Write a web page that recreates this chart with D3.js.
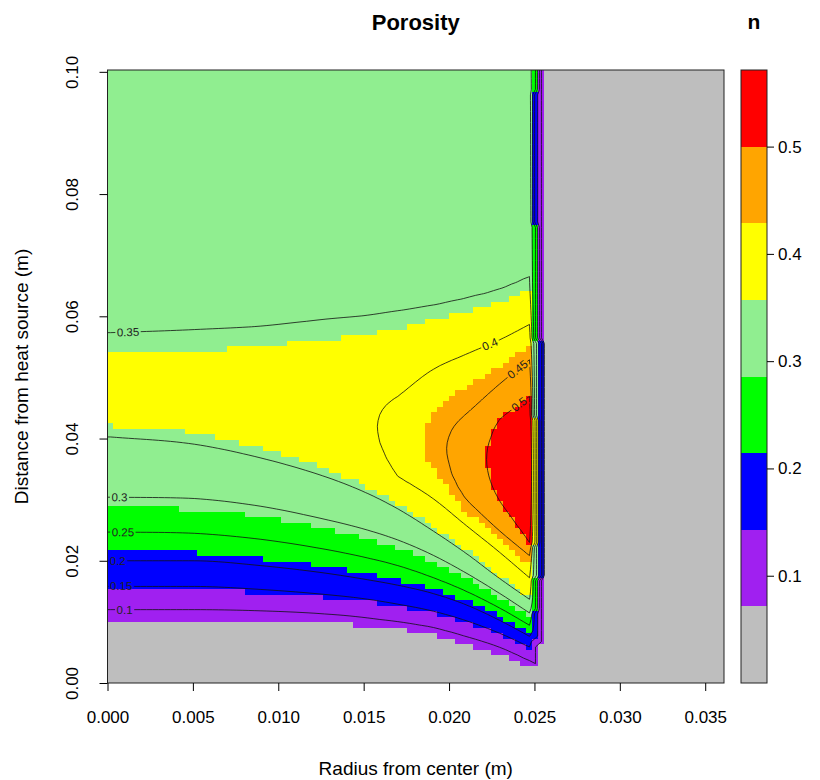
<!DOCTYPE html>
<html>
<head>
<meta charset="utf-8">
<script src="https://cdn.jsdelivr.net/npm/d3@7"></script>
<style>
  body { margin: 0; background: #ffffff; }
  svg { display: block; }
</style>
</head>
<body>
<svg id="chart" width="820" height="780"></svg>
<script>
// ---------------- DATA ----------------
// Colour classes of the image (R filled levels) and their colours
const fillLevels = [0, 0.0714, 0.1429, 0.2143, 0.2857, 0.3571, 0.4286, 0.5, 0.5714];
const fillColors = ["#BEBEBE", "#A020F0", "#0000FF", "#00FF00", "#90EE90", "#FFFF00", "#FFA500", "#FF0000"];
// Contour line levels
const contourLevels = [0.1, 0.15, 0.2, 0.25, 0.3, 0.35, 0.4, 0.45, 0.5];
// x (m) where each contour gets its label (label sits on the upper-most crossing)
const labelX = [0.0010, 0.0008, 0.0006, 0.0009, 0.0007, 0.0012, 0.0224, 0.0240, 0.0241];

// Axis ticks
const xTicks = [0, 0.005, 0.010, 0.015, 0.020, 0.025, 0.030, 0.035];
const yTicks = [0, 0.02, 0.04, 0.06, 0.08, 0.10];
const legendTicks = [0.1, 0.2, 0.3, 0.4, 0.5];

// Porosity field: vertical profiles at these radii (m)
const colX = [0, 0.005, 0.009, 0.0127, 0.015, 0.017, 0.019, 0.021, 0.023, 0.0248];
// heights (m) where the rising part of each profile crosses these values
const lowLevels = [0.0714, 0.1, 0.15, 0.2, 0.25, 0.3, 0.35, 0.4, 0.45, 0.5];
const lowY = [
  [0.0099, 0.0099, 0.0099, 0.0099, 0.0093, 0.0088, 0.0079, 0.0063, 0.0045, 0.0027],
  [0.0120, 0.0120, 0.0118, 0.0113, 0.0107, 0.0100, 0.0091, 0.0076, 0.0058, 0.0035],
  [0.0158, 0.0158, 0.0153, 0.0145, 0.0138, 0.0129, 0.0118, 0.0102, 0.0081, 0.0058],
  [0.0200, 0.0200, 0.0192, 0.0180, 0.0170, 0.0160, 0.0147, 0.0128, 0.0102, 0.0075],
  [0.0247, 0.0245, 0.0235, 0.0219, 0.0206, 0.0192, 0.0173, 0.0150, 0.0122, 0.0093],
  [0.0304, 0.0302, 0.0289, 0.0268, 0.0252, 0.0234, 0.0210, 0.0180, 0.0146, 0.0113],
  [0.0403, 0.0391, 0.0368, 0.0338, 0.0313, 0.0285, 0.0250, 0.0212, 0.0170, 0.0135],
  [null,   null,   null,   null,   null,   0.0338, 0.0303, 0.0258, 0.0213, 0.0170],
  [null,   null,   null,   null,   null,   null,   null,   0.0300, 0.0248, 0.0207],
  [null,   null,   null,   null,   null,   null,   null,   null,   0.0296, 0.0226]
];
// maximum of each profile and its height
const peakV = [0.370, 0.370, 0.375, 0.384, 0.392, 0.412, 0.435, 0.470, 0.520, 0.560];
const peakY = [0.0470, 0.0468, 0.0460, 0.0445, 0.0428, 0.0405, 0.0390, 0.0372, 0.0362, 0.0350];
// heights where the falling (upper) part of each profile crosses these values
const upLevels = [0.5, 0.45, 0.4, 0.35];
const upY = [
  [null,   null,   null,   null,   null,   null,   null,   null,   0.0433, 0.0471],
  [null,   null,   null,   null,   null,   null,   null,   0.0440, 0.0490, 0.0531],
  [null,   null,   null,   null,   null,   0.0469, 0.0512, 0.0538, 0.0562, 0.0588],
  [0.0573, 0.0578, 0.0584, 0.0595, 0.0601, 0.0609, 0.0618, 0.0630, 0.0645, 0.0666]
];
const bottomValue = 0.0;
const topValue = 0.32;

// the thin wall strip: start of 1st cell, 2nd cell, and of the solid (gray) part
const edgeStarts = [0.02489, 0.02524, 0.02559];
const edge1Top = [0.0026, 0.0075, 0.0119, 0.0169, 0.0229, 0.0435, 0.0561, 0.0750, 0.0967, 0.1003];
const edge1Val = [0.03,   0.10,   0.18,   0.25,   0.32,   0.39,   0.32,   0.25,   0.18,   0.25];
const edge2Top = [0.0065, 0.0169, 0.0561, 0.1003];
const edge2Val = [0.03,   0.10,   0.20,   0.10];
const solidValue = 0.0;

// ---------------- LAYOUT ----------------
const FONT = "'Liberation Sans', Arial, Helvetica, sans-serif";
const plot = { left: 107.5, right: 724, top: 70, bottom: 683 };
const xDomain = [0, 0.0361], yDomain = [0, 0.1003];
const nx = 103, ny = 111;
const dx = xDomain[1] / nx, dy = yDomain[1] / ny;

const svg = d3.select("#chart");
svg.append("rect").attr("width", 820).attr("height", 780).attr("fill", "#ffffff");

const x = d3.scaleLinear().domain(xDomain).range([plot.left, plot.right]);
const y = d3.scaleLinear().domain(yDomain).range([plot.bottom, plot.top]);
const color = d3.scaleThreshold().domain(fillLevels.slice(1, -1)).range(fillColors);

// ---------------- FIELD ----------------
// smooth (monotone-ish cubic Hermite) interpolation of a row of read heights between columns
function herm(arr, k, t) {
  const x0 = colX[k], x1 = colX[k + 1], h = x1 - x0, y0 = arr[k], y1 = arr[k + 1];
  const s = (y1 - y0) / h;
  let m0 = s, m1 = s;
  if (k > 0 && arr[k - 1] != null) {
    const sp = (y0 - arr[k - 1]) / (x0 - colX[k - 1]);
    m0 = sp * s <= 0 ? 0 : (sp + s) / 2;
  }
  if (k + 2 < arr.length && arr[k + 2] != null) {
    const sn = (arr[k + 2] - y1) / (colX[k + 2] - x1);
    m1 = sn * s <= 0 ? 0 : (sn + s) / 2;
  }
  if (Math.abs(m0) > 3 * Math.abs(s)) m0 = 3 * s;
  if (Math.abs(m1) > 3 * Math.abs(s)) m1 = 3 * s;
  const t2 = t * t, t3 = t2 * t;
  return (2 * t3 - 3 * t2 + 1) * y0 + (t3 - 2 * t2 + t) * h * m0 + (-2 * t3 + 3 * t2) * y1 + (t3 - t2) * h * m1;
}
// knots (height, value) of the vertical profile at radius xx, with monotone tangents
function knotsAt(xx) {
  const last = colX.length - 1;
  const xc = Math.min(colX[last], Math.max(colX[0], xx));
  let k = Math.min(last - 1, Math.max(0, d3.bisectRight(colX, xc) - 1));
  const t = (xc - colX[k]) / (colX[k + 1] - colX[k]);
  const pv = peakV[k] + (peakV[k + 1] - peakV[k]) * t;
  const py = herm(peakY, k, t);
  const pts = [[0, bottomValue]];
  const addLevel = (rowArr, L, sign) => {
    const a = rowArr[k], b = rowArr[k + 1];
    let yv = null;
    if (a != null && b != null) yv = herm(rowArr, k, t);
    else if (a == null && b != null) {
      const tn = (L - peakV[k]) / (peakV[k + 1] - peakV[k]);
      if (t > tn) {
        const d = Math.abs(peakY[k + 1] - b) * Math.sqrt((t - tn) / (1 - tn));
        yv = py + sign * d;
      }
    }
    if (yv != null && L < pv - 1e-4) pts.push([yv, L]);
  };
  lowLevels.forEach((L, r) => addLevel(lowY[r], L, -1));
  pts.push([py, pv]);
  upLevels.forEach((L, r) => addLevel(upY[r], L, +1));
  pts.push([yDomain[1], topValue]);
  pts.sort((p, q) => p[0] - q[0]);
  const kn = pts.filter((p, i) => i === 0 || p[0] - pts[i - 1][0] > 1e-7);
  // Steffen monotone tangents
  const n = kn.length, hs = [], ds = [], ms = new Array(n);
  for (let i = 0; i < n - 1; i++) {
    hs.push(kn[i + 1][0] - kn[i][0]);
    ds.push((kn[i + 1][1] - kn[i][1]) / hs[i]);
  }
  ms[0] = ds[0]; ms[n - 1] = ds[n - 2];
  for (let i = 1; i < n - 1; i++) {
    const d0 = ds[i - 1], d1 = ds[i];
    if (d0 * d1 <= 0) { ms[i] = 0; continue; }
    const p = (d0 * hs[i] + d1 * hs[i - 1]) / (hs[i - 1] + hs[i]);
    ms[i] = (Math.sign(d0) + Math.sign(d1)) * Math.min(Math.abs(d0), Math.abs(d1), 0.5 * Math.abs(p));
  }
  return { kn, hs, ms };
}
function profileValue(pr, yy) {
  const { kn, hs, ms } = pr;
  if (yy <= kn[0][0]) return kn[0][1];
  for (let i = 1; i < kn.length; i++) {
    if (yy <= kn[i][0]) {
      const h = hs[i - 1], t = (yy - kn[i - 1][0]) / h, t2 = t * t, t3 = t2 * t;
      return (2 * t3 - 3 * t2 + 1) * kn[i - 1][1] + (t3 - 2 * t2 + t) * h * ms[i - 1]
           + (-2 * t3 + 3 * t2) * kn[i][1] + (t3 - t2) * h * ms[i];
    }
  }
  return kn[kn.length - 1][1];
}
function stepVal(tops, vals, yy) {
  for (let i = 0; i < tops.length; i++) if (yy < tops[i]) return vals[i];
  return vals[vals.length - 1];
}
const grid = d3.range(ny).map(() => new Array(nx));
for (let i = 0; i < nx; i++) {
  const xc = (i + 0.5) * dx;
  const pr = xc < edgeStarts[0] ? knotsAt(xc) : null;
  for (let j = 0; j < ny; j++) {
    const yc = (j + 0.5) * dy;
    let v;
    if (xc >= edgeStarts[2]) v = solidValue;
    else if (xc >= edgeStarts[1]) v = stepVal(edge2Top, edge2Val, yc);
    else if (xc >= edgeStarts[0]) v = stepVal(edge1Top, edge1Val, yc);
    else v = profileValue(pr, yc);
    grid[j][i] = v;
  }
}

// ---------------- CELLS ----------------
const defs = svg.append("defs");
defs.append("clipPath").attr("id", "plotclip").append("rect")
  .attr("x", plot.left).attr("y", plot.top)
  .attr("width", plot.right - plot.left).attr("height", plot.bottom - plot.top);

const runs = [];
grid.forEach((row, j) => {
  let start = 0;
  for (let i = 1; i <= nx; i++) {
    if (i === nx || color(row[i]) !== color(row[start])) {
      runs.push({ j, i0: start, i1: i, c: color(row[start]) });
      start = i;
    }
  }
});
svg.append("g").attr("clip-path", "url(#plotclip)").attr("shape-rendering", "crispEdges")
  .selectAll("rect").data(runs).join("rect")
  .attr("x", d => Math.round(x(d.i0 * dx)))
  .attr("width", d => Math.round(x(d.i1 * dx)) - Math.round(x(d.i0 * dx)))
  .attr("y", d => Math.round(y((d.j + 1) * dy)))
  .attr("height", d => Math.round(y(d.j * dy)) - Math.round(y((d.j + 1) * dy)))
  .attr("fill", d => d.c);

// ---------------- CONTOURS ----------------
const P = nx + 2, Q = ny + 2;
const padded = new Array(P * Q);
for (let jj = 0; jj < Q; jj++) {
  const j = Math.min(ny - 1, Math.max(0, jj - 1));
  for (let ii = 0; ii < P; ii++) {
    const i = Math.min(nx - 1, Math.max(0, ii - 1));
    padded[jj * P + ii] = grid[j][i];
  }
}
const contours = d3.contours().size([P, Q]).thresholds(contourLevels)(padded);
const toPx = c => [x((c[0] - 1) * dx), y((c[1] - 1) * dy)];
const ringsPx = contours.map(ct => {
  const rings = [];
  ct.coordinates.forEach(poly => poly.forEach(ring => rings.push(ring.map(toPx))));
  return { value: ct.value, rings };
});

// label placement
const LABEL_SIZE = 11.5;
const labels = [];
ringsPx.forEach((lv, li) => {
  const X = x(labelX[li]);
  let best = null;
  lv.rings.forEach(ring => {
    for (let k = 0; k < ring.length - 1; k++) {
      const p = ring[k], q = ring[k + 1];
      if (p[0] === q[0]) continue;
      if ((p[0] - X) * (q[0] - X) > 0) continue;
      const t = (X - p[0]) / (q[0] - p[0]);
      const yy = p[1] + t * (q[1] - p[1]);
      if (yy < plot.top || yy > plot.bottom) continue;
      let ang = Math.atan2(q[1] - p[1], q[0] - p[0]) * 180 / Math.PI;
      if (ang > 90) ang -= 180;
      if (ang < -90) ang += 180;
      if (!best || yy < best.y) best = { x: X, y: yy, ang };
    }
  });
  if (best) labels.push({ ...best, text: String(lv.value) });
});

const mask = defs.append("mask").attr("id", "labelmask").attr("maskUnits", "userSpaceOnUse")
  .attr("x", 0).attr("y", 0).attr("width", 820).attr("height", 780);
mask.append("rect").attr("width", 820).attr("height", 780).attr("fill", "#fff");

const lineG = svg.append("g").attr("clip-path", "url(#plotclip)")
  .append("g").attr("mask", "url(#labelmask)");
const labelG = svg.append("g").attr("clip-path", "url(#plotclip)");
labels.forEach(l => {
  const t = labelG.append("text")
    .attr("transform", `translate(${l.x},${l.y}) rotate(${l.ang})`)
    .attr("text-anchor", "middle").attr("dy", "0.35em")
    .attr("font-family", FONT).attr("font-size", LABEL_SIZE).attr("fill", "#222")
    .text(l.text);
  const w = t.node().getComputedTextLength() + 3;
  mask.append("rect")
    .attr("x", -w / 2).attr("y", -LABEL_SIZE * 0.5).attr("width", w).attr("height", LABEL_SIZE)
    .attr("transform", `translate(${l.x},${l.y}) rotate(${l.ang})`)
    .attr("fill", "#000");
});

const line = d3.line();
lineG.selectAll("path")
  .data(ringsPx.flatMap(lv => lv.rings))
  .join("path")
  .attr("d", r => line(r) + "Z")
  .attr("fill", "none").attr("stroke", "#111").attr("stroke-width", 0.8);

// ---------------- FRAME & AXES ----------------
svg.append("rect")
  .attr("x", plot.left).attr("y", plot.top)
  .attr("width", plot.right - plot.left).attr("height", plot.bottom - plot.top)
  .attr("fill", "none").attr("stroke", "#222").attr("stroke-width", 1);

const gx = svg.append("g").attr("transform", `translate(0,${plot.bottom})`)
  .call(d3.axisBottom(x).tickValues(xTicks).tickFormat(d3.format(".3f")).tickSize(8).tickPadding(20));
gx.select(".domain").remove();
gx.attr("font-family", FONT).attr("font-size", 17);

const gy = svg.append("g").attr("transform", `translate(${plot.left},0)`)
  .call(d3.axisLeft(y).tickValues(yTicks).tickFormat(d3.format(".2f")).tickSize(8));
gy.select(".domain").remove();
gy.attr("font-family", FONT).attr("font-size", 17);
gy.selectAll("text").attr("x", null).attr("dy", null).attr("text-anchor", "middle")
  .attr("transform", "translate(-30,0) rotate(-90)");

svg.append("text").attr("x", (plot.left + plot.right) / 2).attr("y", 30)
  .attr("text-anchor", "middle").attr("font-family", FONT).attr("font-weight", "bold")
  .attr("font-size", 22).text("Porosity");
svg.append("text").attr("x", (plot.left + plot.right) / 2).attr("y", 775)
  .attr("text-anchor", "middle").attr("font-family", FONT)
  .attr("font-size", 19).text("Radius from center (m)");
svg.append("text").attr("transform", `translate(28,${(plot.top + plot.bottom) / 2}) rotate(-90)`)
  .attr("text-anchor", "middle").attr("font-family", FONT)
  .attr("font-size", 19).text("Distance from heat source (m)");

// ---------------- LEGEND ----------------
const key = { left: 741, right: 767 };
const yl = d3.scaleLinear().domain([fillLevels[0], fillLevels[fillLevels.length - 1]])
  .range([plot.bottom, plot.top]);
svg.append("g").attr("shape-rendering", "crispEdges")
  .selectAll("rect").data(fillColors).join("rect")
  .attr("x", key.left).attr("width", key.right - key.left)
  .attr("y", (d, i) => yl(fillLevels[i + 1]))
  .attr("height", (d, i) => yl(fillLevels[i]) - yl(fillLevels[i + 1]))
  .attr("fill", d => d);
svg.append("rect").attr("x", key.left).attr("y", plot.top)
  .attr("width", key.right - key.left).attr("height", plot.bottom - plot.top)
  .attr("fill", "none").attr("stroke", "#222").attr("stroke-width", 1);
const gl = svg.append("g").attr("transform", `translate(${key.right},0)`)
  .call(d3.axisRight(yl).tickValues(legendTicks).tickFormat(d3.format(".1f")).tickSize(7).tickPadding(4));
gl.select(".domain").remove();
gl.attr("font-family", FONT).attr("font-size", 17);
svg.append("text").attr("x", (key.left + key.right) / 2).attr("y", 29)
  .attr("text-anchor", "middle").attr("font-family", FONT).attr("font-weight", "bold")
  .attr("font-size", 21).text("n");
</script>
</body>
</html>
